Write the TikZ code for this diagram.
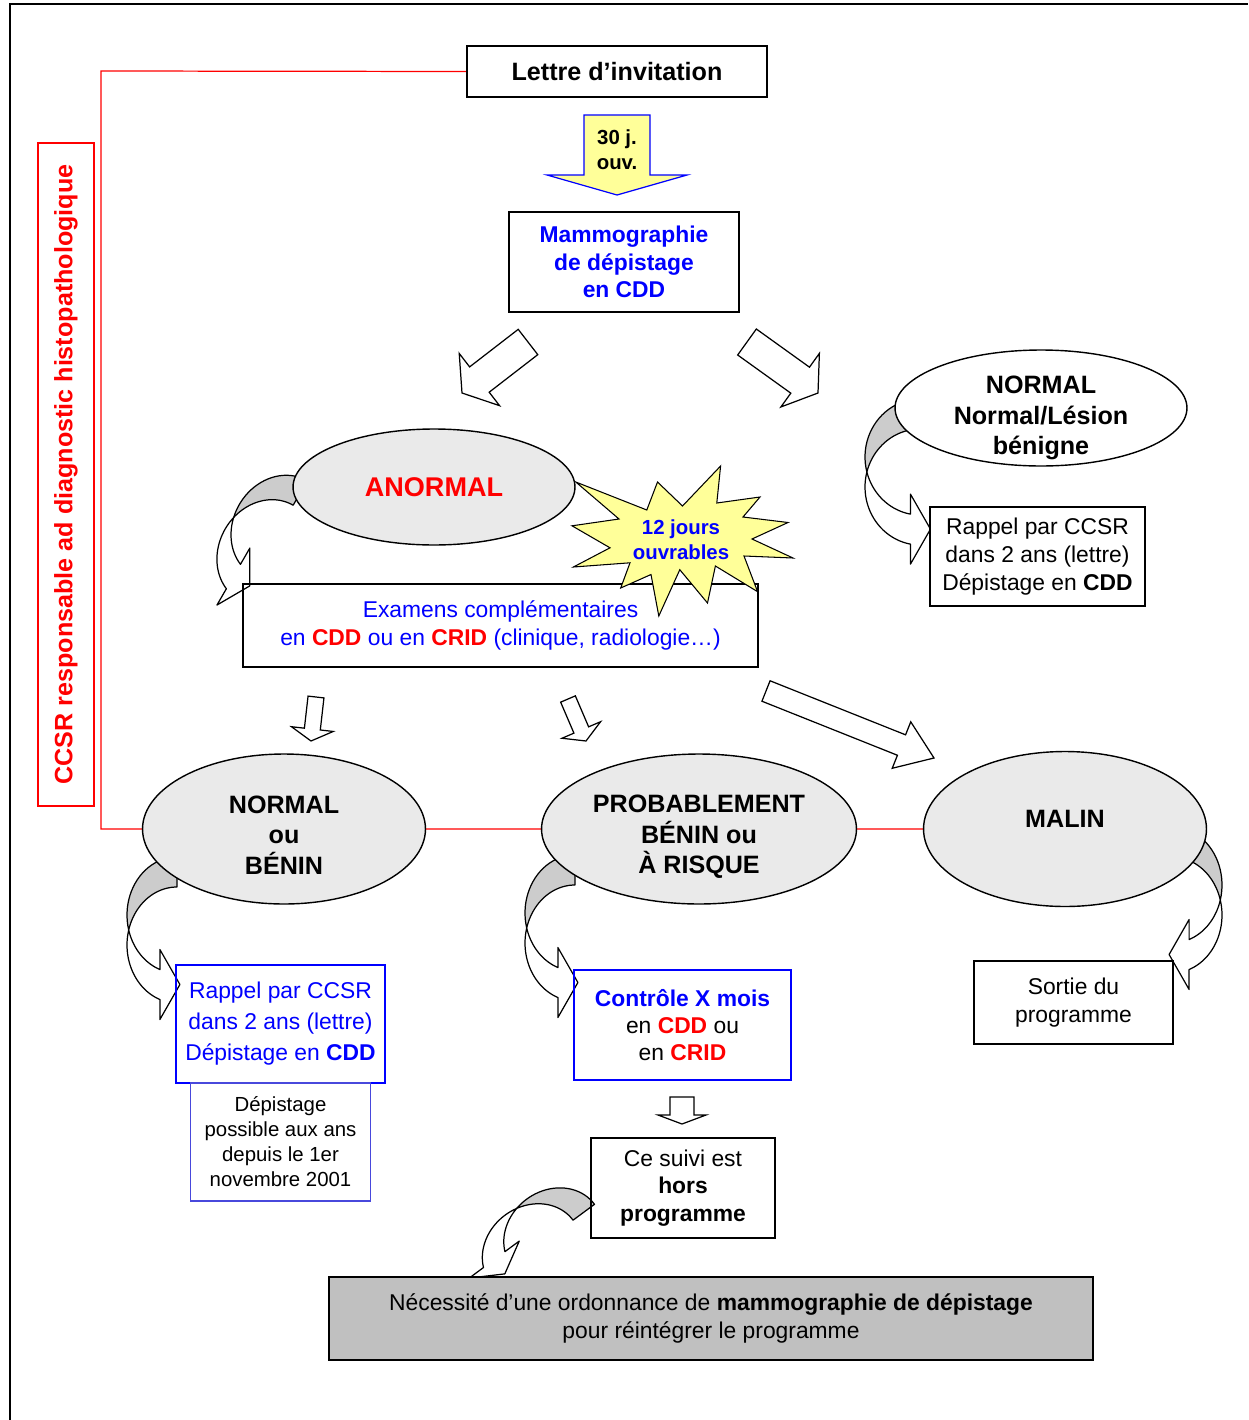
\documentclass[tikz,border=0pt]{standalone}
\usepackage{fontspec}
\setmainfont{Liberation Sans}
\usepackage{xcolor}
\definecolor{bleu}{RGB}{0,0,255}
\definecolor{rouge}{RGB}{255,0,0}
\definecolor{ovalgris}{RGB}{234,234,234}
\definecolor{rubangris}{RGB}{204,204,204}
\definecolor{fondgris}{RGB}{192,192,192}
\definecolor{jaune}{RGB}{255,255,153}
\definecolor{bleupale}{RGB}{72,72,220}
\usepackage{tikz}
\usetikzlibrary{shapes, arrows, positioning, calc, backgrounds}
\tikzstyle{boite} = [rectangle, draw, line width=0.8pt, align=center, inner sep=0pt, outer sep=0pt]
\tikzstyle{oval} = [ellipse, draw, fill=ovalgris, line width=0.8pt, inner sep=0pt]
\tikzstyle{texte} = [align=center, inner sep=0pt]
\tikzstyle{bloc} = [draw, fill=white, line width=0.7pt, line join=miter]
\tikzstyle{ruban} = [draw, line width=0.7pt, line join=round]
\tikzstyle{trait} = [draw=rouge, line width=0.7pt]
\tikzstyle{etoile} = [draw, fill=jaune, line width=0.6pt]
\newcommand{\taillen}{\fontsize{13}{15.6}\selectfont}
\newcommand{\tailleg}{\fontsize{14.3}{17.3}\selectfont}
\newcommand{\taillep}{\fontsize{11.6}{14.2}\selectfont}
\newcommand{\grasrouge}[1]{\textcolor{rouge}{\bfseries #1}}

% fleche pleine : [style] queue, pointe, demi-tige, demi-tete, longueur tete
\newcommand{\flechebloc}[6][]{%
  \path (#3) coordinate (fb-p) ($(#3)!#6!(#2)$) coordinate (fb-c) (#2) coordinate (fb-q);
  \filldraw[bloc,#1] ($(fb-q)!#4!90:(fb-p)$) -- ($(fb-c)!#4!90:(fb-p)$) -- ($(fb-c)!#5!90:(fb-p)$)
    -- (fb-p) -- ($(fb-c)!#5!-90:(fb-p)$) -- ($(fb-c)!#4!-90:(fb-p)$) -- ($(fb-q)!#4!-90:(fb-p)$) -- cycle;}

% ruban courbe : centre, transformation, demi-largeur, angle du col
\newcommand{\ruban}[4]{%
  \begin{scope}[shift={(#1)}, #2]
    \filldraw[ruban, fill=rubangris] plot[domain=270:165, samples=25] ({#3*cos(\x)}, {58*sin(\x)})
      -- plot[domain=195:270, samples=25] ({#3*cos(\x)}, {30+58*sin(\x)}) -- cycle;
    \filldraw[ruban, fill=white] plot[domain=195:#4, samples=25] ({#3*cos(\x)}, {30+58*sin(\x)})
      -- ++(0,20) -- ({#3*cos(#4)+20}, {15+58*sin(#4)}) -- ({#3*cos(#4)}, {58*sin(#4)-20})
      -- ({#3*cos(#4)}, {58*sin(#4)}) -- plot[domain=#4:165, samples=25] ({#3*cos(\x)}, {58*sin(\x)}) -- cycle;
  \end{scope}}

\begin{document}
\begin{tikzpicture}[x=0.02cm, y=-0.02cm]
    \useasboundingbox (0,0) rectangle (1248,1420);
    \draw[line width=1.1pt] (10,1420) |- (1248,4);

    % invitation et mammographie
    \node[boite, minimum width=6cm, minimum height=1.02cm, font=\tailleg\bfseries] (lettre) at (617,71.5) {Lettre d’invitation};
    \flechebloc[fill=jaune, draw=bleu]{617,115}{617,195}{6.6mm}{14mm}{4mm}
    \node[texte, font=\taillep\bfseries] (delai30) at (617,150) {30 j.\\ouv.};
    \node[boite, minimum width=4.6cm, minimum height=2cm, text=bleu, font=\taillen\bfseries] (mammo) at (624,262) {Mammographie\\de dépistage\\en CDD};
    \flechebloc{528,342}{462,393}{3.2mm}{6.6mm}{4.4mm}
    \flechebloc{747,342}{818,393}{3.2mm}{6.6mm}{4.4mm}

    % premier resultat
    \node[oval, fill=white, minimum width=5.84cm, minimum height=2.32cm] (normal) at (1041,408) {};
    \node[texte, font=\tailleg\bfseries] (normal-t) at ($(normal)+(0,10)$) {NORMAL\\Normal/Lésion\\bénigne};
    \node[boite, minimum width=4.3cm, minimum height=1.98cm, font={\fontsize{13}{15.9}\selectfont}] (rappelN) at (1037.5,556.5) {Rappel par CCSR\\dans 2 ans (lettre)\\Dépistage en \textbf{CDD}};
    \node[oval, minimum width=5.64cm, minimum height=2.32cm] (anormal) at (434,487) {};
    \node[texte, font={\fontsize{15.4}{18}\selectfont\bfseries}, text=rouge] (anormal-t) at (anormal) {ANORMAL};
    \node[boite, minimum width=10.3cm, minimum height=1.66cm, text=bleu, font=\taillen] (examens) at (500.5,625.5) {Examens complémentaires\\en \grasrouge{CDD} ou en \grasrouge{CRID} (clinique, radiologie…)};
    \draw[etoile] (682.5,506) -- (720.6,466) -- (716.8,503) -- (760,497) -- (743,517) -- (788,522.5) -- (752,539) -- (793,558)
      -- (744,556) -- (757.6,591.7) -- (715.4,566) -- (707.5,603) -- (679.8,569.7) -- (658.8,616) -- (651,574.5) -- (620.7,588)
      -- (630,562.8) -- (573.4,567) -- (610,547.8) -- (572,525.8) -- (619,519) -- (575.8,482) -- (646.8,510) -- (657.5,482) -- cycle;
    \node[texte, font=\taillep\bfseries, text=bleu] (delai12) at (681,540) {12 jours\\ouvrables};
    \node[boite, draw=rouge, text=rouge, rotate=90, minimum width=13.26cm, minimum height=1.12cm, font=\tailleg\bfseries] (ccsr) at (66,474.5) {CCSR responsable ad diagnostic histopathologique};

    % resultat des examens
    \flechebloc{316,697}{311,741}{1.6mm}{4.2mm}{2.4mm}
    \flechebloc{568,699}{586,741}{1.6mm}{4.2mm}{2.4mm}
    \flechebloc{766,691}{934,758}{2.2mm}{5mm}{7mm}
    \node[oval, minimum width=5.66cm, minimum height=3cm] (nb) at (284,829) {};
    \node[texte, font=\tailleg\bfseries] (nb-t) at ($(nb)+(0,6)$) {NORMAL\\ou\\BÉNIN};
    \node[oval, minimum width=6.3cm, minimum height=3cm] (prob) at (699,829) {};
    \node[texte, font=\tailleg\bfseries] (prob-t) at ($(prob)+(0,8)$) {PROBABLEMENT\\BÉNIN ou\\À RISQUE};
    \node[oval, minimum width=5.66cm, minimum height=3.1cm] (malin) at (1065,829) {};
    \node[texte, font=\tailleg\bfseries] (malin-t) at ($(malin)+(0,-10)$) {MALIN};

    % suites
    \node[boite, draw=bleu, text=bleu, minimum width=4.18cm, minimum height=2.36cm, font={\fontsize{13}{17.6}\selectfont}] (rappelB) at (280.5,1024) {Rappel par CCSR\\dans 2 ans (lettre)\\Dépistage en \textbf{CDD}};
    \node[boite, draw=bleupale, minimum width=3.6cm, minimum height=2.36cm, font=\taillep, below=0pt of rappelB] (depist) {Dépistage\\possible aux ans\\depuis le 1er\\novembre 2001};
    \node[boite, draw=bleu, minimum width=4.34cm, minimum height=2.2cm, font=\taillen] (controle) at (682.5,1025) {\textcolor{bleu}{\bfseries Contrôle X mois}\\en \grasrouge{CDD} ou\\en \grasrouge{CRID}};
    \node[boite, minimum width=3.98cm, minimum height=1.66cm, font=\taillen] (sortie) at (1073.5,1002.5) {Sortie du\\programme};
    \flechebloc{682,1097}{682,1124}{2.4mm}{4.8mm}{1.8mm}
    \node[boite, minimum width=3.68cm, minimum height=2cm, font=\taillen] (suivi) at (683,1188) {Ce suivi est\\\textbf{hors}\\\textbf{programme}};
    \node[boite, fill=fondgris, line width=1.1pt, minimum width=15.28cm, minimum height=1.66cm, font=\taillen] (necessite) at (711,1318.5) {Nécessité d’une ordonnance de \textbf{mammographie de dépistage}\\pour réintégrer le programme};

    \coordinate (coin) at (101,71);
    \begin{scope}[on background layer]
        \draw[trait] (lettre.west) -- (coin) |- (malin.west);
        \ruban{920,457}{}{55}{100}
        \ruban{280,528}{rotate=-30, scale=0.94}{50}{110}
        \ruban{177,915}{}{50}{110}
        \ruban{575,913}{}{50}{110}
        \ruban{1172,885}{xscale=-1}{50}{110}
        \ruban{553,1235}{rotate=-53.5, scale=0.89}{50}{110}
    \end{scope}
\end{tikzpicture}
\end{document}
